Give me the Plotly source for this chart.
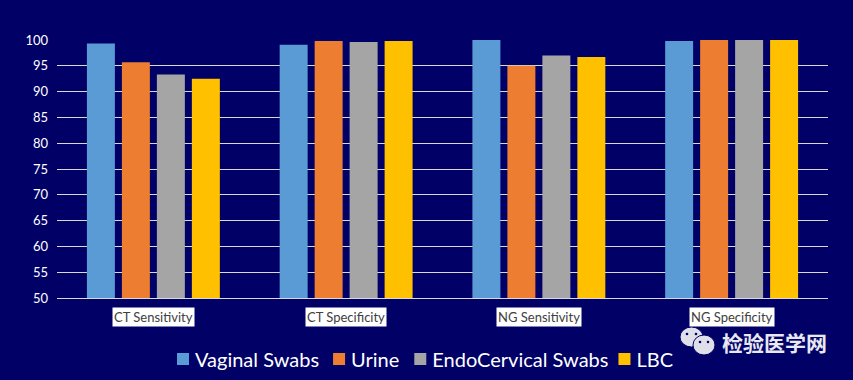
import plotly.graph_objects as go

categories = ["CT Sensitivity", "CT Specificity", "NG Sensitivity", "NG Specificity"]
vaginal = [99.3, 99.1, 100, 99.8]
urine = [95.7, 99.8, 95, 100]
endo = [93.3, 99.6, 97, 100]
lbc = [92.5, 99.8, 96.7, 100]
series = [("Vaginal Swabs", vaginal, "#5B9BD5"), ("Urine", urine, "#ED7D31"),
          ("EndoCervical Swabs", endo, "#A5A5A5"), ("LBC", lbc, "#FFC000")]
tick_vals = list(range(50, 101, 5))
BG = "#000066"
W, H = 853, 380
L, R, T, B = 57, 25, 40, 82
FONT = "Lato, Open Sans, sans-serif"

fig = go.Figure()
for name, vals, col in series:
    fig.add_bar(x=categories, y=vals, name=name, marker=dict(color=col, line_width=0))

annos = []
for c in categories:
    annos.append(dict(x=c, xref="x", y=-0.074, yref="paper", yanchor="middle", text=c, showarrow=False,
                      font=dict(family=FONT, size=13, color="#404040"),
                      bgcolor="#FFFFFF", borderpad=1))
px = lambda v: (v - L) / (W - L - R)
py = lambda v: 1 - (v - T) / (H - T - B)
annos.append(dict(x=px(720), xref="paper", y=py(342), yref="paper", xanchor="left", yanchor="middle",
                  text="<b>检验医学网</b>", showarrow=False,
                  font=dict(family="Noto Sans CJK SC", size=21, color="#E8E8F2")))
shapes = []
ICON = "#DFDFEA"
for cx, cy, rx, ry, fill in [(691.5, 337, 11.5, 10, ICON), (704, 345, 11, 10, ICON),
                             (687, 334, 1.3, 1.3, BG), (696, 334, 1.3, 1.3, BG),
                             (700, 342, 1.3, 1.3, BG), (708, 342, 1.3, 1.3, BG)]:
    shapes.append(dict(type="circle", xref="paper", yref="paper", layer="above",
                       x0=px(cx - rx), x1=px(cx + rx), y0=py(cy + ry), y1=py(cy - ry),
                       fillcolor=fill, line=dict(color=BG, width=1 if rx > 2 else 0)))

fig.update_layout(
    width=W, height=H, autosize=False,
    paper_bgcolor=BG, plot_bgcolor=BG,
    margin=dict(l=L, r=R, t=T, b=B, autoexpand=False),
    barmode="group", bargap=0.274, bargroupgap=0.2,
    font=dict(family=FONT, color="#FFFFFF"),
    xaxis=dict(showticklabels=False, ticks="", showline=True, linecolor="#D9D9D9", linewidth=1, showgrid=False,
               categoryorder="array", categoryarray=categories),
    yaxis=dict(range=[50, 100], tickvals=tick_vals, ticks="", showline=False,
               tickfont=dict(family=FONT, size=13, color="#FFFFFF"),
               gridcolor="#D9D9D9", gridwidth=1, zeroline=False, ticklabelstandoff=8),
    legend=dict(orientation="h", x=px(423), xanchor="center", y=py(359), yanchor="middle",
                font=dict(family=FONT, size=20, color="#FFFFFF"), indentation=-15,
                bgcolor="rgba(0,0,0,0)", itemwidth=30, traceorder="normal"),
    annotations=annos, shapes=shapes, showlegend=True,
)
post = """
document.documentElement.style.background='%s';
document.body.style.margin='0';
document.body.style.overflow='hidden';
(function(){
  var done=false, extra=[0,2,5,3];
  function nudge(){
    if(done) return;
    var tr=document.querySelectorAll('.legend .traces');
    if(tr.length<4) return;
    done=true;
    tr.forEach(function(t,i){
      t.setAttribute('transform',(t.getAttribute('transform')||'')+' translate('+extra[i]+',0)');
      var s=t.querySelector('.legendsymbols');
      if(s) s.setAttribute('transform','translate(8,0)');
    });
  }
  nudge(); setTimeout(nudge,30); setTimeout(nudge,150); setTimeout(nudge,400);
})();
""" % BG
fig.write_html("out.html", config=dict(displayModeBar=False), post_script=post)
